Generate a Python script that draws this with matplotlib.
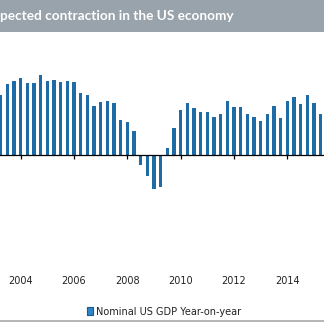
import matplotlib
matplotlib.use("Agg")
import matplotlib.pyplot as plt
from matplotlib.patches import Rectangle
from matplotlib.lines import Line2D
import numpy as np

# Nominal US GDP, year-on-year % (quarterly, visible window)
values = [5.3, 6.3, 6.6, 6.9, 6.4, 6.4, 7.1, 6.6, 6.7, 6.5, 6.6, 6.5,
          5.5, 5.3, 4.4, 4.7, 4.8, 4.6, 3.1, 2.9, 2.1, -0.9, -1.9, -3.1,
          -2.9, 0.6, 2.4, 4.0, 4.6, 4.2, 3.8, 3.8, 3.4, 3.6, 4.8, 4.3,
          4.3, 3.6, 3.4, 3.0, 3.6, 4.4, 3.3, 4.8, 5.2, 4.5, 5.3, 4.6, 3.6]
tick_idx = [3, 11, 19, 27, 35, 43]
tick_labels = ["2004", "2006", "2008", "2010", "2012", "2014"]
title = "pected contraction in the US economy"
legend_label = "Nominal US GDP Year-on-year"

W, H = 324, 323
fig = plt.figure(figsize=(W / 100, H / 100), dpi=100)
fig.patch.set_facecolor("white")

# title bar
bar_h = 31.7
fig.add_artist(Rectangle((0, 1 - bar_h / H), 1, bar_h / H, transform=fig.transFigure,
                         facecolor="#99a3ab", edgecolor="none"))
fig.text(0.0, 1 - 16.5 / H, title, color="white", fontsize=9.8, fontweight="bold",
         family="Lato", ha="left", va="center")

ax_top, ax_bot = 32, 270
ax = fig.add_axes([0, 1 - ax_bot / H, 1, (ax_bot - ax_top) / H])
x = np.arange(len(values))
ax.bar(x, values, width=0.47, color="#1f6ba5", label=legend_label)

px_per = 11.17
base = 154.7
ax.set_ylim(-(ax_bot - base) / px_per, (base - ax_top) / px_per)
ax.set_xlim(-0.105, 48.5)

for s in ["top", "left", "right"]:
    ax.spines[s].set_visible(False)
ax.spines["bottom"].set_position(("data", 0))
ax.spines["bottom"].set_color("black")
ax.spines["bottom"].set_linewidth(0.9)
ax.set_yticks([])
ax.set_xticks(tick_idx)
ax.set_xticklabels(tick_labels)
ax.tick_params(axis="x", direction="out", length=3, width=0.9, color="black",
               pad=84, labelsize=7, labelcolor="#222222")
ax.set_facecolor("none")

handle = Rectangle((0, 0), 1, 1, facecolor="#2e86c9", edgecolor="#1a5a8c", linewidth=0.8)
fig.legend([handle], [legend_label], loc="center",
           bbox_to_anchor=(164 / W, 1 - 311.7 / H), frameon=False,
           fontsize=7, handlelength=0.6, handleheight=0.9, handletextpad=0.3,
           labelcolor="#222222")

fig.add_artist(Line2D([0, 1], [1 - 320.7 / H] * 2, transform=fig.transFigure,
                      color="#a8a8a8", linewidth=1.2))

fig.savefig("out.png", dpi=100)
